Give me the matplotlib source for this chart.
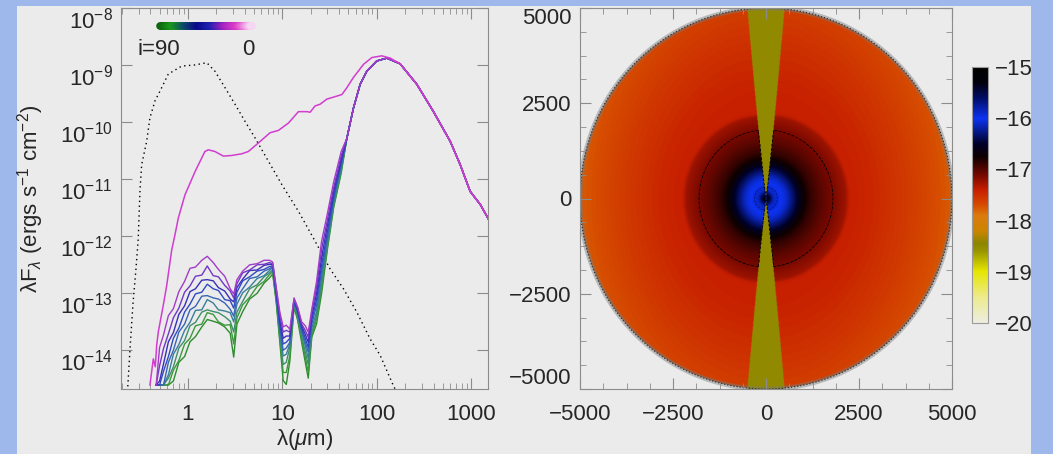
import numpy as np
from matplotlib import pyplot as plt
from matplotlib.collections import LineCollection
from matplotlib.colors import LinearSegmentedColormap
from matplotlib.patches import Circle, Rectangle
from matplotlib.ticker import FixedLocator, FuncFormatter, LogLocator, NullFormatter, NullLocator, MultipleLocator

# --- SED: log10(lambda F_lambda) [ergs s^-1 cm^-2] vs wavelength [micron] ---

# input stellar photosphere
star_wave = [0.2255, 0.2426, 0.261, 0.281, 0.297, 0.310, 0.323, 0.365, 0.395, 0.447, 0.505, 0.618,
             0.857, 1.186, 1.58, 1.93, 2.47, 3.15, 4.02, 5.13, 7.11, 9.86, 14.8, 20.5, 26.0, 32.0,
             44.4, 61.5, 85.1, 108.7, 150.0, 175.0]
star_logf = [-14.90, -14.00, -13.20, -12.58, -12.05, -11.20, -10.75, -10.34, -9.93, -9.63, -9.46, -9.16,
             -9.02, -9.00, -8.96, -9.11, -9.40, -9.69, -9.99, -10.28, -10.69, -11.10, -11.57, -11.99, -12.30, -12.58,
             -12.93, -13.34, -13.81, -14.10, -14.63, -14.85]

# pole-on view, i = 0
face_wave = [0.395, 0.429, 0.45, 0.466, 0.484, 0.547, 0.595, 0.672, 0.728, 0.789, 0.929, 1.19, 1.51, 1.64,
             1.93, 2.37, 2.90, 3.71, 4.36, 5.57, 7.41, 9.07, 11.6, 14.8, 18.2, 19.7, 22.2, 25.1, 29.6, 42.7,
             48.2, 56.6, 72.3, 88.8, 113, 139, 177, 266, 396, 600, 766, 977, 1250, 1520]
face_logf = [-14.62, -14.16, -14.30, -13.92, -13.69, -13.22, -12.87, -12.25, -11.98, -11.69, -11.28, -10.87,
             -10.52, -10.49, -10.52, -10.60, -10.59, -10.56, -10.52, -10.37, -10.19, -10.15, -10.02, -9.82,
             -9.82, -9.83, -9.72, -9.69, -9.60, -9.52, -9.40, -9.22, -8.99, -8.87, -8.84, -8.88, -8.98,
             -9.34, -9.81, -10.34, -10.75, -11.22, -11.45, -11.70]

# inclined views, scattered light + silicate/ice features (0.46 - 42 micron)
nir_wave = [0.46, 0.50, 0.55, 0.62, 0.70, 0.80, 0.92, 1.05, 1.2, 1.4, 1.6, 1.85, 2.1, 2.45, 2.8, 3.05, 3.3,
            3.8, 4.5, 5.4, 6.4, 7.3, 7.9, 8.6, 9.4, 10.2, 11.0, 12.0, 13.3, 14.5, 16.0, 17.5, 18.8, 20.5,
            23.0, 26.0, 30.0, 35.0, 42.0]
nir_i10 = [-14.62, -13.96, -13.74, -13.40, -13.28, -12.98, -12.80, -12.57, -12.55, -12.43, -12.36, -12.47,
           -12.59, -12.71, -12.93, -13.02, -12.77, -12.62, -12.51, -12.49, -12.43, -12.43, -12.46, -12.90,
           -13.34, -13.60, -13.57, -13.64, -13.09, -13.25, -13.51, -13.58, -13.69, -13.29, -12.81, -12.10,
           -11.61, -11.05, -10.52]
nir_i20 = [-14.62, -14.28, -13.98, -13.72, -13.44, -13.27, -12.99, -12.88, -12.71, -12.69, -12.53, -12.70,
           -12.72, -12.87, -12.97, -13.09, -12.84, -12.65, -12.60, -12.51, -12.50, -12.47, -12.49, -12.93,
           -13.41, -13.69, -13.66, -13.69, -13.11, -13.27, -13.55, -13.66, -13.78, -13.34, -12.91, -12.24,
           -11.72, -11.15, -10.60]
nir_i30 = [-14.62, -14.55, -14.25, -13.86, -13.70, -13.38, -13.23, -12.98, -12.93, -12.78, -12.77, -12.79,
           -12.91, -12.97, -13.11, -13.16, -12.91, -12.76, -12.61, -12.60, -12.52, -12.50, -12.51, -12.97,
           -13.48, -13.80, -13.76, -13.76, -13.13, -13.30, -13.58, -13.73, -13.87, -13.41, -13.02, -12.39,
           -11.82, -11.22, -10.66]
nir_i40 = [-14.62, -14.62, -14.38, -14.12, -13.80, -13.62, -13.34, -13.20, -13.02, -12.99, -12.85, -12.93,
           -12.96, -13.12, -13.14, -13.27, -12.99, -12.79, -12.72, -12.62, -12.59, -12.54, -12.53, -13.00,
           -13.55, -13.90, -13.87, -13.80, -13.14, -13.32, -13.62, -13.80, -13.96, -13.48, -13.13, -12.53,
           -11.93, -11.29, -10.71]
nir_i50 = [-14.62, -14.62, -14.62, -14.22, -14.01, -13.69, -13.55, -13.30, -13.24, -13.06, -13.05, -13.09,
           -13.11, -13.18, -13.29, -13.41, -13.09, -12.93, -12.75, -12.72, -12.62, -12.58, -12.54, -13.04,
           -13.62, -14.01, -13.97, -13.87, -13.16, -13.34, -13.66, -13.87, -14.04, -13.55, -13.23, -12.63,
           -12.02, -11.35, -10.76]
nir_i60 = [-14.62, -14.62, -14.62, -14.44, -14.08, -13.91, -13.66, -13.52, -13.31, -13.30, -13.12, -13.18,
           -13.30, -13.32, -13.35, -13.51, -13.20, -13.00, -12.90, -12.75, -12.70, -12.61, -12.56, -13.07,
           -13.69, -14.11, -14.08, -13.90, -13.18, -13.37, -13.69, -13.94, -14.15, -13.62, -13.34, -12.74,
           -12.09, -11.40, -10.80]
nir_i70 = [-14.62, -14.62, -14.62, -14.50, -14.30, -13.97, -13.84, -13.58, -13.52, -13.34, -13.30, -13.33,
           -13.35, -13.42, -13.50, -13.69, -13.34, -13.15, -12.93, -12.86, -12.72, -12.65, -12.60, -13.09,
           -13.76, -14.26, -14.22, -13.96, -13.20, -13.41, -13.76, -14.04, -14.26, -13.69, -13.41, -12.84,
           -12.14, -11.43, -10.83]
nir_i80 = [-14.62, -14.62, -14.62, -14.62, -14.36, -14.19, -13.90, -13.80, -13.58, -13.55, -13.35, -13.38,
           -13.51, -13.57, -13.56, -13.90, -13.44, -13.21, -13.08, -12.89, -12.80, -12.68, -12.63, -13.13,
           -13.81, -14.40, -14.40, -14.10, -13.23, -13.44, -13.81, -14.13, -14.40, -13.74, -13.48, -12.93,
           -12.19, -11.47, -10.87]
nir_i90 = [-14.62, -14.62, -14.62, -14.62, -14.55, -14.22, -14.12, -13.86, -13.77, -13.60, -13.47, -13.50,
           -13.53, -13.60, -13.71, -14.13, -13.55, -13.33, -13.11, -13.01, -12.83, -12.74, -12.67, -13.16,
           -13.87, -14.54, -14.61, -14.20, -13.25, -13.48, -13.87, -14.22, -14.50, -13.78, -13.55, -13.02,
           -12.24, -11.50, -10.90]

# thermal dust emission, the same for all inclined views
fir_wave = [48.2, 56.6, 66.7, 78.5, 100, 128, 177, 266, 396, 600, 766, 977, 1250, 1520]
fir_logf = [-10.29, -9.76, -9.34, -9.11, -8.93, -8.88, -8.98, -9.34, -9.81, -10.34, -10.75, -11.22, -11.45, -11.70]

inclined = [nir_i90, nir_i80, nir_i70, nir_i60, nir_i50, nir_i40, nir_i30, nir_i20, nir_i10]
incl_colors = ['#2e8b2e', '#3c9a3c', '#3f8f6a', '#3a7f9a', '#3766b4', '#2f4ac2', '#3a2fb8', '#7038c4', '#a43cc8']
sed_xticks = [1, 10, 100, 1000]
sed_yticks = [1e-14, 1e-13, 1e-12, 1e-11, 1e-10, 1e-9, 1e-8]

# --- envelope density, log10(rho) [g cm^-3] vs radius [AU] ---
env_radius = [0, 80, 200, 400, 550, 700, 850, 1000, 1200, 1500, 1800, 2150, 2250, 3000, 4000, 5000]
env_logrho = [-15.0, -15.4, -15.85, -16.0, -16.1, -16.3, -16.5, -16.72, -16.88, -17.02, -17.12, -17.25,
              -17.4, -17.46, -17.58, -17.72]
cavity_logrho = -18.5
cavity_halfwidth = 500.0
cbar_ticks = [-20, -19, -18, -17, -16, -15]

BLUE = '#9eb8ec'
GRAY = '#ebebeb'
SPINE = '#8c8c8c'
TEXT = '#262626'


def style_axes(ax):
    ax.tick_params(which='both', direction='in', top=True, right=True, color=SPINE,
                   labelcolor=TEXT, labelsize=16)
    ax.tick_params(which='major', length=8)
    ax.tick_params(which='minor', length=4)
    ax.tick_params(axis='x', pad=11)
    ax.tick_params(axis='y', pad=6)
    for s in ax.spines.values():
        s.set_color(SPINE)


def plot_sed(ax):
    ax.set_facecolor(GRAY)
    ax.set_xscale('log')
    ax.set_yscale('log')

    ax.plot(star_wave, 10.0 ** np.array(star_logf), color='black', lw=1.0, ls=(0, (1, 2.5)))
    for logf, color in zip(inclined, incl_colors):
        ax.plot(nir_wave + fir_wave, 10.0 ** np.array(logf + fir_logf), color=color, lw=1.0)
    ax.plot(face_wave, 10.0 ** np.array(face_logf), color='#d23ccf', lw=1.1)

    ax.set_xlim(0.195, 1510)
    ax.set_ylim(10 ** -14.69, 1e-8)

    ax.xaxis.set_major_locator(FixedLocator(sed_xticks))
    ax.xaxis.set_major_formatter(FuncFormatter(lambda v, _: f"{v:g}"))
    ax.xaxis.set_minor_locator(LogLocator(base=10, subs=np.arange(2, 10), numticks=20))
    ax.xaxis.set_minor_formatter(NullFormatter())
    ax.yaxis.set_major_locator(FixedLocator(sed_yticks))
    ax.yaxis.set_major_formatter(FuncFormatter(lambda v, _: rf"$10^{{{int(round(np.log10(v)))}}}$"))
    ax.yaxis.set_minor_locator(NullLocator())
    style_axes(ax)

    ax.set_ylabel("λF$_{λ}$ (ergs s$^{-1}$ cm$^{-2}$)", fontsize=16, color=TEXT)
    ax.yaxis.set_label_coords(-0.205, 0.5)
    ax.set_xlabel(r"λ($\mu$m)", fontsize=16, color=TEXT)
    ax.xaxis.set_label_coords(0.5, -0.10)

    # inclination key: green (edge-on) to pink (pole-on)
    key_cmap = LinearSegmentedColormap.from_list(
        'incl', ['#0b5e0b', '#1a9a1a', '#0e4a6a', '#0a0a8a', '#2020b0', '#a020c0', '#e040c8', '#f6d6f2'])
    xs = np.linspace(0.106, 0.357, 120)
    pts = np.column_stack([xs, np.full_like(xs, 0.953)]).reshape(-1, 1, 2)
    segs = np.concatenate([pts[:-1], pts[1:]], axis=1)
    lc = LineCollection(segs, cmap=key_cmap, array=np.linspace(0, 1, len(segs)), linewidth=5.5,
                        capstyle='round', transform=ax.transAxes, clip_on=False)
    ax.add_collection(lc)
    ax.text(0.046, 0.890, "i=90", transform=ax.transAxes, ha='left', va='center', fontsize=16, color=TEXT)
    ax.text(0.346, 0.890, "0", transform=ax.transAxes, ha='center', va='center', fontsize=16, color=TEXT)


def plot_density(ax, cax):
    ax.set_facecolor(GRAY)
    cmap = LinearSegmentedColormap.from_list('density', [
        (0.0, (0.93, 0.93, 0.88)),
        (0.1, (0.93, 0.92, 0.55)),
        (0.2, (0.90, 0.90, 0.0)),
        (0.28, (0.60, 0.58, 0.0)),
        (0.31, (0.55, 0.52, 0.0)),
        (0.36, (0.80, 0.52, 0.0)),
        (0.42, (0.86, 0.48, 0.05)),
        (0.46, (0.84, 0.30, 0.0)),
        (0.52, (0.78, 0.12, 0.0)),
        (0.58, (0.45, 0.03, 0.0)),
        (0.65, (0.05, 0.0, 0.0)),
        (0.70, (0.0, 0.0, 0.15)),
        (0.80, (0.05, 0.2, 0.95)),
        (0.88, (0.0, 0.05, 0.4)),
        (0.94, (0.0, 0.0, 0.05)),
        (1.0, (0.0, 0.0, 0.0)),
    ])
    cmap.set_bad((0, 0, 0, 0))

    g = np.linspace(-5000, 5000, 801)
    X, Y = np.meshgrid(g, g)
    R = np.hypot(X, Y)
    field = np.interp(R, env_radius, env_logrho)
    outer = np.clip((R - 2250) / 2750, 0, 1)
    sin2 = (Y / np.maximum(R, 1.0)) ** 2
    field += outer * (0.12 * sin2 - 0.04 * (1 - sin2))
    field[R > 5000] = np.nan
    field[np.abs(X) < cavity_halfwidth * (np.abs(Y) / 5000) ** 0.9] = cavity_logrho

    im = ax.imshow(field, extent=(-5000, 5000, -5000, 5000), origin='lower', cmap=cmap,
                   vmin=-20, vmax=-15, aspect='auto', interpolation='bilinear')
    masked = np.ma.masked_invalid(field)
    ax.contour(X, Y, masked, levels=[np.interp(1800, env_radius, env_logrho)], colors='black', linewidths=0.6)
    ax.contour(X, Y, masked, levels=[-15.93], colors='#00108a', linewidths=0.5)
    ax.add_patch(Circle((0, 0), 5000, fill=False, ec='#7a7a7a', lw=3.5, alpha=0.45))
    ax.add_patch(Circle((0, 0), 5000, fill=False, ec='#333333', lw=0.9, ls=(0, (1, 1.5))))
    ax.set_xlim(-5000, 5000)
    ax.set_ylim(-5000, 5000)

    ax.xaxis.set_major_locator(MultipleLocator(2500))
    ax.yaxis.set_major_locator(MultipleLocator(2500))
    ax.xaxis.set_minor_locator(MultipleLocator(625))
    ax.yaxis.set_minor_locator(MultipleLocator(625))
    style_axes(ax)

    cb = plt.colorbar(im, cax=cax, ticks=cbar_ticks)
    cb.outline.set_edgecolor('#9a9a9a')
    cb.outline.set_linewidth(0.8)
    cax.tick_params(length=0, pad=5, labelsize=16, labelcolor=TEXT)


def main() -> None:
    plt.rcParams['font.family'] = 'Liberation Sans'
    plt.rcParams['mathtext.fontset'] = 'custom'
    plt.rcParams['mathtext.rm'] = 'Liberation Sans'
    plt.rcParams['mathtext.it'] = 'Liberation Sans:italic'
    plt.rcParams['mathtext.bf'] = 'Liberation Sans:bold'

    W, H = 1053, 454
    fig = plt.figure(figsize=(W / 100, H / 100), dpi=100, facecolor=BLUE)
    fig.add_artist(Rectangle((17 / W, 0), (1031 - 17) / W, (H - 6) / H, transform=fig.transFigure,
                             facecolor=GRAY, edgecolor='none', zorder=-1))

    ax_sed = fig.add_axes([121 / W, 1 - 389 / H, 367 / W, 381 / H])
    ax_rho = fig.add_axes([580 / W, 1 - 389 / H, 372 / W, 381 / H])
    cax = fig.add_axes([972 / W, 1 - 323 / H, 16 / W, 256 / H])

    plot_sed(ax_sed)
    plot_density(ax_rho, cax)

    # keep the end labels of the y axes inside the plot height
    fig.canvas.draw()
    for t in ax_sed.yaxis.get_major_ticks():
        if np.isclose(t.get_loc(), 1e-8):
            t.label1.set_va('top')
    for t in ax_rho.yaxis.get_major_ticks():
        if np.isclose(t.get_loc(), 5000):
            t.label1.set_va('top')
        elif np.isclose(t.get_loc(), -5000):
            t.label1.set_va('bottom')

    # frame
    fig.add_artist(Rectangle((1031 / W, 0), 22 / W, 1, transform=fig.transFigure,
                             facecolor=BLUE, edgecolor='none', zorder=10))
    fig.add_artist(Rectangle((0, 1 - 6 / H), 1, 6 / H, transform=fig.transFigure,
                             facecolor=BLUE, edgecolor='none', zorder=10))

    fig.savefig('out.png', dpi=100, facecolor=fig.get_facecolor())


if __name__ == "__main__":
    main()
